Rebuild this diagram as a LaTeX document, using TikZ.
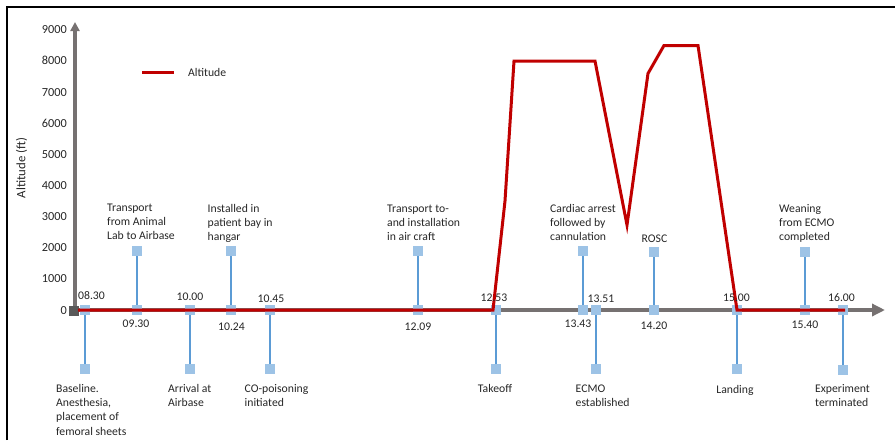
\documentclass[tikz,border=0pt]{standalone}
\usepackage{fontspec}
\setmainfont{Carlito}
\usetikzlibrary{arrows.meta}
\definecolor{axisgray}{RGB}{118,113,113}
\definecolor{origray}{RGB}{89,89,89}
\definecolor{altred}{RGB}{192,0,0}
\definecolor{stemblue}{RGB}{91,155,213}
\definecolor{markblue}{RGB}{157,195,230}
\definecolor{txt}{RGB}{38,38,38}
\begin{document}
\begin{tikzpicture}[x=1pt,y=-1pt,
  every node/.style={text=txt},
  lbl/.style={font=\fontsize{11.7}{14.3}\selectfont, inner sep=0pt},
  evtxt/.style={lbl, align=left, anchor=north west},
  tick/.style={font=\fontsize{12.3}{14}\selectfont, inner sep=0pt, anchor=base east},
  tm/.style={lbl, anchor=base},
  mkr/.style={rectangle, fill=markblue, minimum size=10.5pt, inner sep=0pt},
  stem/.style={draw=stemblue, line width=2.4pt},
  axisline/.style={draw=axisgray, line width=4pt},
  alt/.style={draw=altred, line width=3pt, line join=miter}]
\useasboundingbox (0,0) rectangle (895,440);
% frame
\draw[line width=2pt] (7,440) -- (7,7) -- (895,7);
% y ticks
\foreach \v in {0,1000,...,9000}
  \node[tick] (tk\v) at (67,{310-\v*0.03113+4}) {\v};
\node[rotate=90, font=\fontsize{12.8}{14}\selectfont, inner sep=0pt] (ylab) at (21.5,168) {Altitude (ft)};
% legend
\coordinate (lg1) at (142,72);
\coordinate (lg2) at (174,72);
\draw[alt] (lg1) -- (lg2);
\node[lbl, anchor=west] (lgt) at (188,72) {Altitude};
% axes
\coordinate (xorg) at (74,310);
\coordinate (xtip) at (885,310);
\coordinate (yorg) at (75,310);
\coordinate (ytip) at (75,22);
\draw[axisline, -{Triangle[length=13pt,width=12pt]}] (xorg) -- (xtip);
\draw[axisline, -{Triangle[length=9pt,width=9pt]}] (yorg) -- (ytip);
\node[fill=origray, minimum size=10pt, inner sep=0pt] (o) at (73.5,310.5) {};
% events: axis markers
\node[mkr] (a1) at (85,310) {};
\node[mkr] (a2) at (137,310) {};
\node[mkr] (a3) at (190,310) {};
\node[mkr] (a4) at (231,310) {};
\node[mkr] (a5) at (270,310) {};
\node[mkr] (a6) at (418,310) {};
\node[mkr] (a7) at (496,310) {};
\node[mkr] (a8) at (583,310) {};
\node[mkr] (a9) at (596,310) {};
\node[mkr] (a10) at (654,310) {};
\node[mkr] (a11) at (737,310) {};
\node[mkr] (a12) at (805,310) {};
\node[mkr] (a13) at (843,310) {};
% end markers
\node[mkr] (b1) at (85,369) {};
\node[mkr] (b2) at (137,251) {};
\node[mkr] (b3) at (190,369) {};
\node[mkr] (b4) at (231,251) {};
\node[mkr] (b5) at (270,369) {};
\node[mkr] (b6) at (418,251) {};
\node[mkr] (b7) at (496,369) {};
\node[mkr] (b8) at (583,251) {};
\node[mkr] (b9) at (596,369) {};
\node[mkr] (b10) at (654,252) {};
\node[mkr] (b11) at (737,369) {};
\node[mkr] (b12) at (805,252) {};
\node[mkr] (b13) at (843,370) {};
% stems
\draw[stem] (a1.south) -- (b1.north);
\draw[stem] (a2.north) -- (b2.south);
\draw[stem] (a3.south) -- (b3.north);
\draw[stem] (a4.north) -- (b4.south);
\draw[stem] (a5.south) -- (b5.north);
\draw[stem] (a6.north) -- (b6.south);
\draw[stem] (a7.south) -- (b7.north);
\draw[stem] (a8.north) -- (b8.south);
\draw[stem] (a9.south) -- (b9.north);
\draw[stem] (a10.north) -- (b10.south);
\draw[stem] (a11.south) -- (b11.north);
\draw[stem] (a12.north) -- (b12.south);
\draw[stem] (a13.south) -- (b13.north);
% altitude curve
\draw[alt] (78,310) -- (493,310) -- (505,201) -- (514,61) -- (595,61) -- (627,225)
  -- (648,73.5) -- (664,45.5) -- (698,45.5) -- (737,310) -- (845,310);
% time labels
\node[tm] (h1) at (91.5,299) {08.30};
\node[tm] (h2) at (136,327) {09.30};
\node[tm] (h3) at (190,300.5) {10.00};
\node[tm] (h4) at (231.5,330) {10.24};
\node[tm] (h5) at (271,302) {10.45};
\node[tm] (h6) at (418,330) {12.09};
\node[tm] (h7) at (494,301) {12.53};
\node[tm] (h8) at (578,327) {13.43};
\node[tm] (h9) at (601,302) {13.51};
\node[tm] (h10) at (654,329) {14.20};
\node[tm] (h11) at (736.5,301.5) {15.00};
\node[tm] (h12) at (805,328) {15.40};
\node[tm] (h13) at (841.5,301) {16.00};
% event texts
\node[evtxt] (e1) at (56,382) {\strut Baseline.\\Anesthesia,\\placement of\\femoral sheets};
\node[evtxt] (e2) at (107,201) {\strut Transport\\from Animal\\Lab to Airbase};
\node[evtxt] (e3) at (168,382) {\strut Arrival at\\Airbase};
\node[evtxt] (e4) at (207.5,202) {\strut Installed in\\patient bay in\\hangar};
\node[evtxt] (e5) at (244.5,382) {\strut CO-poisoning\\initiated};
\node[evtxt] (e6) at (387,202) {\strut Transport to-\\and installation\\in air craft};
\node[tm] (e7) at (495,392) {Takeoff};
\node[evtxt] (e8) at (550,202) {\strut Cardiac arrest\\followed by\\cannulation};
\node[evtxt] (e9) at (575.5,382) {\strut ECMO\\established};
\node[tm] (e10) at (654.5,242) {ROSC};
\node[tm] (e11) at (735,393) {Landing};
\node[evtxt] (e12) at (779,202) {\strut Weaning\\from ECMO\\completed};
\node[evtxt] (e13) at (815,382) {\strut Experiment\\terminated};
\end{tikzpicture}
\end{document}
